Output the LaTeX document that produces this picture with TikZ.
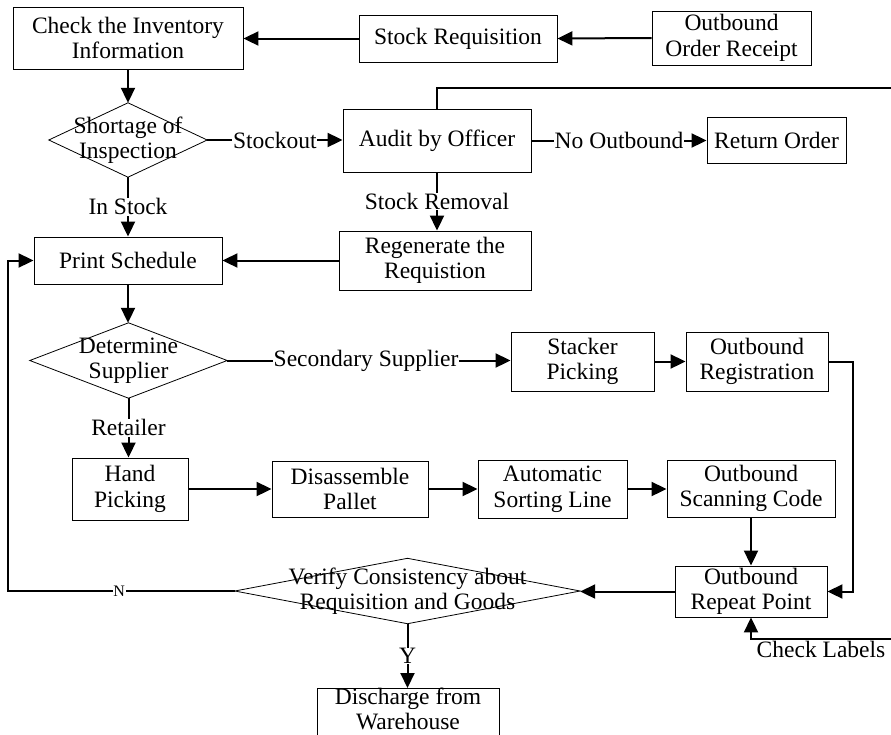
\documentclass[tikz,border=0pt]{standalone}
\usepackage{fontspec}
\setmainfont{Liberation Serif}
\usetikzlibrary{arrows.meta}
\begin{document}
\begin{tikzpicture}[x=1pt,y=-1pt,
  every node/.style={font=\fontsize{23.5}{25.5}\selectfont},
  box/.style={draw, line width=0.9pt, inner sep=0pt, align=center},
  dia/.style={inner sep=0pt, align=center},
  diaedge/.style={line width=0.8pt},
  conn/.style={line width=2pt, -{Triangle[length=15pt,width=14pt]}},
  wire/.style={line width=2pt},
  lbl/.style={fill=white, inner sep=0.6pt},
  smalllbl/.style={fill=white, inner sep=0.6pt, font=\fontsize{16}{18}\selectfont}]

\useasboundingbox (0,0) rectangle (891,734);
\clip (0,0) rectangle (891,734);

% process boxes
\node[box, minimum width=230, minimum height=62] (cki) at (128,38) {Check the Inventory\\Information};
\node[box, minimum width=198, minimum height=47] (sr)  at (458,38.5) {Stock Requisition};
\node[box, minimum width=159, minimum height=54] (oor) at (731.5,38) {Outbound\\Order Receipt};
\node[box, minimum width=188, minimum height=63] (aud) at (437,140.5) {Audit by Officer};
\node[box, minimum width=139, minimum height=46] (ro)  at (776.5,140) {Return Order};
\node[box, minimum width=188, minimum height=47] (ps)  at (128,260.5) {Print Schedule};
\node[box, minimum width=192, minimum height=59] (rg)  at (435,260.5) {Regenerate the\\Requistion};
\node[box, minimum width=143, minimum height=59] (sp)  at (582.5,361.5) {Stacker\\Picking};
\node[box, minimum width=142, minimum height=59] (obr) at (757,361.5) {Outbound\\Registration};
\node[box, minimum width=116, minimum height=62] (hp)  at (130,489) {Hand\\Picking};
\node[box, minimum width=156, minimum height=56] (da)  at (350,489) {Disassemble\\Pallet};
\node[box, minimum width=149, minimum height=58] (asl) at (552.5,489) {Automatic\\Sorting Line};
\node[box, minimum width=168, minimum height=57] (osc) at (751,488.5) {Outbound\\Scanning Code};
\node[box, minimum width=152, minimum height=51] (rp)  at (751,591.5) {Outbound\\Repeat Point};
\node[box, minimum width=182, minimum height=80, anchor=north] (dis) at (408,688) {};
\node[align=center, inner sep=0pt] (distext) at (408,709) {Discharge from\\Warehouse};

% decision diamonds
\node[dia, minimum width=158, minimum height=74] (d1) at (128,140) {Shortage of\\Inspection};
\node[dia, minimum width=197, minimum height=75] (d2) at (128.5,360.5) {Determine\\Supplier};
\node[dia, minimum width=345, minimum height=65] (d3) at (407.5,591) {Verify Consistency about\\Requisition and Goods};
\foreach \d in {d1,d2,d3}
  \draw[diaedge] (\d.north) -- (\d.east) -- (\d.south) -- (\d.west) -- cycle;

% free ends of the lines leaving the sheet
\coordinate (topout) at (891,88);
\coordinate (chk) at (891,639);
\coordinate (nloop) at (8,591);

% connectors
\draw[conn] (oor.west) -- (sr.east);
\draw[conn] (sr.west) -- (sr.west -| cki.east);
\draw[conn] (cki.south) -- (d1.north);
\draw[conn] (d1.east) -- node[lbl]{Stockout} (d1.east -| aud.west);
\draw[conn] (aud.east) -- node[lbl]{No Outbound} (aud.east -| ro.west);
\draw[wire] (aud.north) |- (topout);
\draw[conn] (aud.south) -- node[lbl]{Stock Removal} (aud.south |- rg.north);
\draw[conn] (d1.south) -- node[lbl]{In Stock} (ps.north);
\draw[conn] (rg.west) -- (rg.west -| ps.east);
\draw[conn] (ps.south) -- (ps.south |- d2.north);
\draw[conn] (d2.east) -- node[lbl, pos=0.49]{Secondary Supplier} (d2.east -| sp.west);
\draw[conn] (sp.east) -- (obr.west);
\draw[conn] (obr.east) -- ++(25,0) |- (rp.east);
\draw[conn] (d2.south) -- node[lbl]{Retailer} (d2.south |- hp.north);
\draw[conn] (hp.east) -- (hp.east -| da.west);
\draw[conn] (da.east) -- (da.east -| asl.west);
\draw[conn] (asl.east) -- (asl.east -| osc.west);
\draw[conn] (osc.south) -- (rp.north);
\draw[conn] (rp.west) -- (rp.west -| d3.east);
\draw[conn] (d3.west) -- node[smalllbl, pos=0.51]{N} (nloop) |- (ps.west);
\draw[conn] (d3.south) -- node[lbl]{Y} (d3.south |- dis.north);
\draw[conn] (chk) -| node[pos=0.25, below, inner sep=1pt]{Check Labels} (rp.south);

\end{tikzpicture}
\end{document}
